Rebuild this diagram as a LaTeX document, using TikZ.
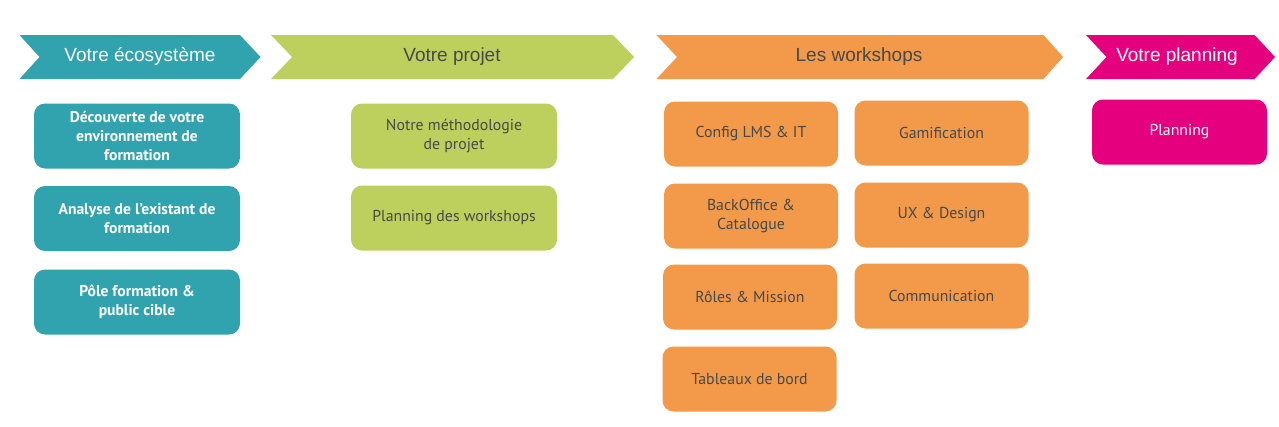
\documentclass[tikz,border=0pt]{standalone}
\usepackage{fontspec}
\setmainfont{PT Sans}
\newfontfamily\titlefont{Liberation Sans}
\definecolor{teal1}{RGB}{49,163,174}
\definecolor{green1}{RGB}{189,208,94}
\definecolor{orange1}{RGB}{242,154,73}
\definecolor{pink1}{RGB}{229,0,125}
\definecolor{txt}{RGB}{72,72,72}
\begin{document}
\begin{tikzpicture}[x=1pt,y=-1pt,
  box/.style={rounded corners=11pt, align=center, inner sep=2pt,
    font=\fontsize{15.8}{19}\selectfont},
  tealbox/.style={box, fill=teal1, text=white, minimum width=206pt, minimum height=65pt,
    font=\fontsize{15.6}{19}\selectfont\bfseries},
  greenbox/.style={box, fill=green1, text=txt, minimum width=206pt, minimum height=65pt},
  orangebox/.style={box, fill=orange1, text=txt, minimum width=174pt, minimum height=65pt},
  pinkbox/.style={box, fill=pink1, text=white, minimum width=175pt, minimum height=65pt},
  title/.style={font=\titlefont\fontsize{19}{21}\selectfont, inner sep=0pt}
]
\useasboundingbox (0,0) rectangle (1279,426);
\fill[white] (0,0) rectangle (1279,426);
% chevrons
\fill[teal1] (19.5,35) -- (240,35) -- (260.5,57) -- (240,79) -- (19.5,79) -- (39.5,57) -- cycle;
\fill[green1] (271,35) -- (613,35) -- (634,57) -- (613,79) -- (271,79) -- (292,57) -- cycle;
\fill[orange1] (656.5,35) -- (1043.5,35) -- (1063,57) -- (1043.5,79) -- (656.5,79) -- (677,57) -- cycle;
\fill[pink1] (1086,35) -- (1254.5,35) -- (1275,57) -- (1254.5,79) -- (1086,79) -- (1106.5,57) -- cycle;
\node[title, text=white] (t1) at (140,56.5) {Votre écosystème};
\node[title, text=txt] (t2) at (452,56.5) {Votre projet};
\node[title, text=txt] (t3) at (859,56.5) {Les workshops};
\node[title, text=white] (t4) at (1177,56.5) {Votre planning};
% teal boxes
\node[tealbox] (e1) at (137,136) {Découverte de votre\\environnement de\\formation};
\node[tealbox] (e2) at (137,218.5) {Analyse de l’existant de\\formation};
\node[tealbox] (e3) at (137,302) {Pôle formation \&\\public cible};
% green boxes
\node[greenbox] (p1) at (454,136) {Notre méthodologie\\de projet};
\node[greenbox] (p2) at (454,218) {Planning des workshops};
% orange boxes
\node[orangebox] (w1) at (751,134) {Config LMS \& IT};
\node[orangebox] (w2) at (751,216) {BackOffice \&\\Catalogue};
\node[orangebox] (w3) at (750,297) {Rôles \& Mission};
\node[orangebox] (w4) at (749.5,379) {Tableaux de bord};
\node[orangebox] (w5) at (941.5,133) {Gamification};
\node[orangebox] (w6) at (941.5,215) {UX \& Design};
\node[orangebox] (w7) at (941.5,296) {Communication};
% pink box
\node[pinkbox] (g1) at (1179.5,132) {Planning};
\end{tikzpicture}
\end{document}
